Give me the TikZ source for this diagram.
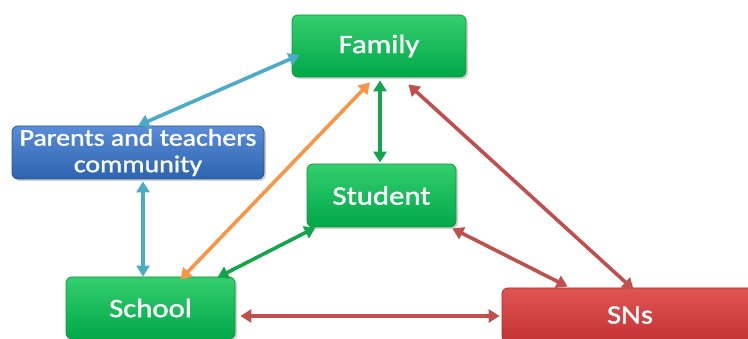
\documentclass[tikz,border=0pt]{standalone}
\usepackage{fontspec}
\setmainfont{Carlito}
\newfontfamily\semib{Carlito}[FakeBold=1.2]
\usetikzlibrary{calc,shadows,arrows.meta}
\newcommand\wx[1]{\scalebox{1.16}[1]{#1}}
\definecolor{gtop}{RGB}{52,206,110}
\definecolor{gbot}{RGB}{0,168,72}
\definecolor{gedge}{RGB}{20,150,60}
\definecolor{btop}{RGB}{90,140,215}
\definecolor{bbot}{RGB}{45,100,175}
\definecolor{bedge}{RGB}{40,85,150}
\definecolor{rtop}{RGB}{225,85,85}
\definecolor{rbot}{RGB}{195,50,50}
\definecolor{redge}{RGB}{165,45,45}
\definecolor{ablue}{RGB}{75,172,198}
\definecolor{aorange}{RGB}{247,150,70}
\definecolor{agreen}{RGB}{20,165,75}
\definecolor{ared}{RGB}{192,80,77}
\tikzset{
  boxbase/.style={rectangle, rounded corners=6pt, text=white, align=center, line width=0.8pt, drop shadow={shadow xshift=2pt, shadow yshift=-2pt, opacity=0.35}, inner sep=0pt, font=\semib\fontsize{26.5}{28}\selectfont},
  gbox/.style={boxbase, draw=gedge, top color=gtop, bottom color=gbot},
  bbox/.style={boxbase, draw=bedge, top color=btop, bottom color=bbot},
  rbox/.style={boxbase, draw=redge, top color=rtop, bottom color=rbot},
  conn/.style={line width=3.6pt, {Triangle[length=11pt,width=13pt]}-{Triangle[length=11pt,width=13pt]}}
}
\begin{document}
\begin{tikzpicture}[x=1pt,y=-1pt]
\useasboundingbox (0,0) rectangle (748,339);
\clip (0,0) rectangle (748,339);
\node[gbox, minimum width=174pt, minimum height=62pt] (fam) at (379,46) {\wx{Family}};
\node[bbox, minimum width=252pt, minimum height=53pt, font=\semib\fontsize{24}{26.5}\selectfont] (par) at (138,152.5) {\wx{Parents and teachers}\\\wx{community}};
\node[gbox, minimum width=149pt, minimum height=63pt] (stu) at (381.5,195.5) {\wx{Student}};
\node[gbox, minimum width=169pt, minimum height=62pt] (sch) at (150.5,308) {\wx{School}};
\node[rbox, minimum width=256pt, minimum height=54pt] (sns) at (630,315) {\wx{SNs}};
% connectors
\draw[conn, draw=ablue, fill=ablue] ($(fam.west)+(8,9)$) -- (par.north);
\draw[conn, draw=ablue, fill=ablue] ($(par.south)+(5,2)$) -- ($(sch.north)+(-7.5,0)$);
\draw[conn, draw=aorange, fill=aorange] ($(fam.south)+(-9,5)$) -- ($(sch.north east)+(-55,3)$);
\draw[conn, draw=agreen, fill=agreen] ($(fam.south)+(1,3)$) -- ($(stu.north)+(-1.5,-1)$);
\draw[conn, draw=agreen, fill=agreen] ($(stu.south west)+(9,0)$) -- ($(sch.north east)+(-18,1)$);
\draw[conn, draw=ared, fill=ared] ($(stu.south east)+(-4,1)$) -- ($(sns.north west)+(66,-1)$);
\draw[conn, draw=ared, fill=ared] ($(fam.south east)+(-58,7)$) -- ($(sns.north west)+(132,2)$);
\draw[conn, draw=ared, fill=ared] ($(sch.east)+(5,8)$) -- ($(sns.west)+(-2,1)$);
\end{tikzpicture}
\end{document}
